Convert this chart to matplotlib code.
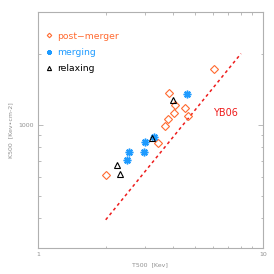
import matplotlib
matplotlib.use("Agg")
import matplotlib.pyplot as plt
from matplotlib.ticker import LogLocator, NullFormatter, FixedFormatter, FixedLocator

# values
post_T = [2.00, 3.42, 3.67, 3.80, 4.02, 4.07, 3.81, 4.51, 4.66, 6.07]
post_K = [612, 834, 990, 1053, 1124, 1207, 1357, 1172, 1092, 1720]
merg_T = [2.50, 2.53, 2.96, 2.99, 3.29, 4.58]
merg_K = [707, 769, 769, 842, 890, 1349]
relax_T = [2.25, 2.31, 3.21, 4.00]
relax_K = [671, 616, 875, 1272]
yb06_T = [2.0, 8.0]
yb06_K = [395, 2000]

orange = "#FF6A30"
blue = "#1E9BFF"
red = "#EE1C1C"
gray = "#B0B0B0"

fig = plt.figure(figsize=(2.74, 2.74), dpi=100)
ax = fig.add_axes([0.139, 0.095, 0.82, 0.861])
ax.set_xscale("log")
ax.set_yscale("log")
ax.set_xlim(1, 10)
ax.set_ylim(300, 3000)

ax.plot(yb06_T, yb06_K, color=red, linestyle=(0, (2.0, 2.0)), linewidth=1.1)
ax.plot(post_T, post_K, linestyle="none", marker="D", markersize=3.8,
        markerfacecolor="none", markeredgecolor=orange, markeredgewidth=0.8,
        label="post\u2212merger")
ax.plot(merg_T, merg_K, linestyle="none", marker=(8, 2, 0), markersize=5.5,
        markeredgecolor=blue, markeredgewidth=1.1, color=blue, label="merging")
ax.plot(relax_T, relax_K, linestyle="none", marker="^", markersize=5,
        markerfacecolor="none", markeredgecolor="black", markeredgewidth=0.8,
        label="relaxing")

ax.text(6.0, 1120, "YB06", color=red, fontsize=7, va="center", ha="left")

leg = ax.legend(loc="upper left", bbox_to_anchor=(0.0, 0.945), frameon=False,
                fontsize=6.7, markerscale=0.6, handlelength=1.0,
                handletextpad=0.35, labelspacing=0.78, borderaxespad=0.3)
for txt, c in zip(leg.get_texts(), [orange, blue, "black"]):
    txt.set_color(c)

for s in ax.spines.values():
    s.set_color(gray)
    s.set_linewidth(0.8)

ax.xaxis.set_major_locator(FixedLocator([1, 10]))
ax.xaxis.set_major_formatter(FixedFormatter(["1", "10"]))
ax.xaxis.set_minor_locator(LogLocator(base=10, subs=range(2, 10)))
ax.xaxis.set_minor_formatter(NullFormatter())
ax.yaxis.set_major_locator(FixedLocator([1000]))
ax.yaxis.set_major_formatter(FixedFormatter(["1000"]))
ax.yaxis.set_minor_locator(LogLocator(base=10, subs=range(2, 10)))
ax.yaxis.set_minor_formatter(NullFormatter())
ax.tick_params(which="both", direction="in", top=True, right=True,
               color=gray, labelcolor="#909090", labelsize=4.5, width=0.6)
ax.tick_params(which="major", length=3.6, pad=3)
ax.tick_params(which="minor", length=1.8)

ax.set_xlabel("T500  [Kev]", fontsize=4.5, color="#909090", labelpad=4)
ax.set_ylabel("K500  [Kev\u2022cm-2]", fontsize=4.5, color="#909090", labelpad=4)

fig.savefig("out.png", dpi=100, facecolor="white")
